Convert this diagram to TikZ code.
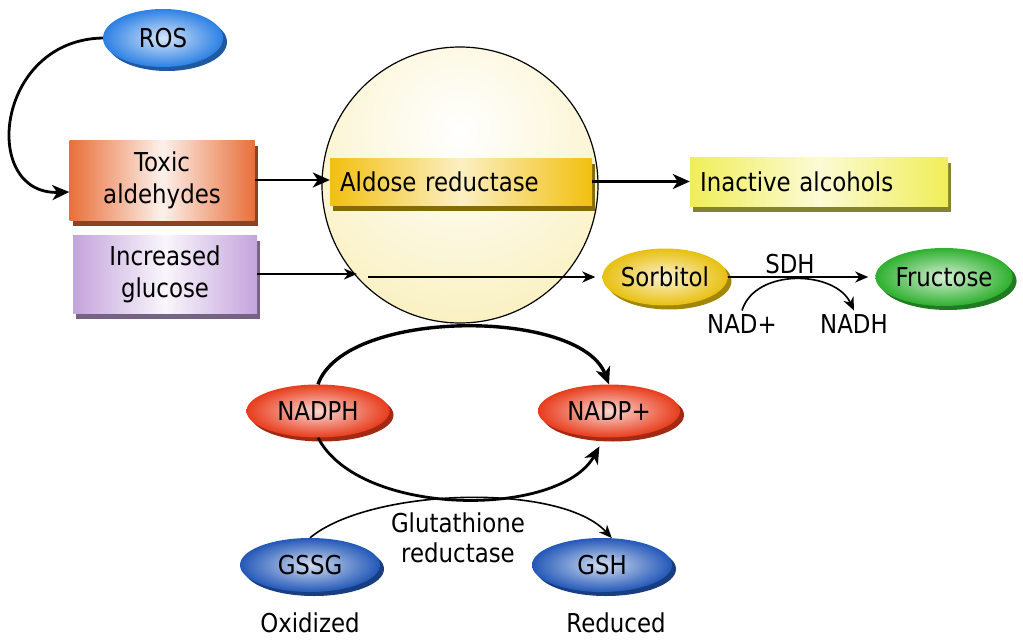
\documentclass[tikz,border=0pt]{standalone}
\usepackage{fontspec}
\setmainfont{DejaVu Sans}[FakeStretch=0.88]
\usetikzlibrary{shapes.geometric,shadows,arrows.meta,calc}
\definecolor{orng}{HTML}{E8703A}
\definecolor{lav}{HTML}{C4A4DC}
\definecolor{gold}{HTML}{F2C010}
\definecolor{yel}{HTML}{F0EE58}
\definecolor{cyel}{HTML}{F8EDB0}
\definecolor{rosb}{HTML}{2C80E4}
\definecolor{gblue}{HTML}{2358B8}
\definecolor{redn}{HTML}{E83C1C}
\definecolor{sorbc}{HTML}{E8C010}
\definecolor{grn}{HTML}{2EB02E}
\newcommand\bigtxt{\fontsize{26}{32}\selectfont}
\begin{document}
\begin{tikzpicture}[x=1pt,y=1pt,
  lens/.style={ellipse, inner sep=0pt, shading=radial,
    inner color=#1!20!white, outer color=#1, font=\bigtxt, text=black,
    drop shadow={shadow xshift=4pt, shadow yshift=-4pt, opacity=1, fill=#1!70!black}},
  box/.style={rectangle, inner sep=0pt, align=center, font=\bigtxt,
    left color=#1, right color=#1, middle color=white!90!#1,
    drop shadow={shadow xshift=3pt, shadow yshift=-6pt, opacity=1, fill=#1!60!black}},
  bar/.style={rectangle, inner xsep=10pt, inner ysep=0pt, align=left, font=\bigtxt,
    left color=#1, right color=#1, middle color=white!75!#1,
    drop shadow={shadow xshift=3pt, shadow yshift=-6pt, opacity=1, fill=#1!55!black}},
  lbl/.style={font=\bigtxt, anchor=base},
  arr/.style={-{Stealth[length=17pt,width=15pt,inset=5pt]}},
  sarr/.style={-{Stealth[length=13pt,width=11pt,inset=4pt]}},
  thk/.style={line width=2.8pt},
  vthk/.style={line width=3.4pt},
  med/.style={line width=2.1pt},
  thn/.style={line width=1.6pt}
]
\fill[white] (0,0) rectangle (1023,-642);
\useasboundingbox (0,0) rectangle (1023,-642);

% big circle
\node[circle, draw=black, line width=1.2pt, minimum size=276pt, fill=cyel,
  path picture={\shade[inner color=white, outer color=cyel]
    ($(path picture bounding box.center)+(0,55pt)$) circle (250pt);}]
  (circ) at (460,-185) {};

% boxes
\node[box=orng, minimum width=185pt, minimum height=80pt] (tox) at (162,-180) {Toxic\\aldehydes};
\node[box=lav, minimum width=184pt, minimum height=78pt] (gluc) at (165,-274) {Increased\\glucose};
\node[bar=gold, text width=242pt, minimum height=47pt] (ar) at (461,-181.5) {Aldose reductase};
\node[bar=yel, text width=238pt, minimum height=49pt] (ia) at (819,-181.5) {Inactive alcohols};

% ellipses
\node[lens=rosb, minimum width=120pt, minimum height=58pt] (ros) at (163,-38) {ROS};
\node[lens=sorbc, minimum width=125pt, minimum height=57pt] (sorb) at (665,-277) {Sorbitol};
\node[lens=grn, minimum width=128pt, minimum height=58pt] (fruct) at (944,-277) {Fructose};
\node[lens=redn, minimum width=143pt, minimum height=53pt] (nadph) at (318,-411) {NADPH};
\node[lens=redn, minimum width=142pt, minimum height=53pt] (nadpp) at (609,-411) {NADP+};
\node[lens=gblue, minimum width=140pt, minimum height=54pt] (gssg) at (310,-565) {GSSG};
\node[lens=gblue, minimum width=140pt, minimum height=54pt] (gsh) at (602,-565) {GSH};

% labels
\node[lbl] (sdh) at (790,-273) {SDH};
\node[lbl] (nad) at (742,-333) {NAD+};
\node[lbl] (nadh) at (854,-333) {NADH};
\node[lbl] (glu1) at (458,-532) {Glutathione};
\node[lbl] (glu2) at (458,-562) {reductase};
\node[lbl] (ox) at (310,-632) {Oxidized};
\node[lbl] (red) at (616,-632) {Reduced};

% connectors
\draw[thk, arr] (ros.west) .. controls (-5,-40) and (-20,-195) .. ([yshift=-12pt]tox.west);
\draw[thk, arr] (tox.east) -- (tox.east -| ar.west);
\draw[thk, arr] (ar.east) -- (ar.east -| ia.west);
\draw[med, sarr] (gluc.east) -- (gluc.east -| circ.222);
\coordinate (inl) at (368,-277);
\draw[med, sarr, shorten >=7pt] (inl) -- (inl -| sorb.west);
\draw[med, sarr, shorten >=7pt] (sorb.east) -- (sorb.east -| fruct.west);
\draw[thn, sarr] (nad.north) .. controls (755,-268) and (835,-270) .. (nadh.north);
\draw[vthk, arr] (nadph.north) .. controls (345,-308) and (580,-308) .. (nadpp.north);
\draw[thk, arr] (nadph.south) .. controls (360,-518) and (560,-518) .. ([yshift=-9pt]nadpp.250);
\draw[thn, sarr] (gssg.north) .. controls (370,-488) and (560,-482) .. (gsh.70);
\end{tikzpicture}
\end{document}
